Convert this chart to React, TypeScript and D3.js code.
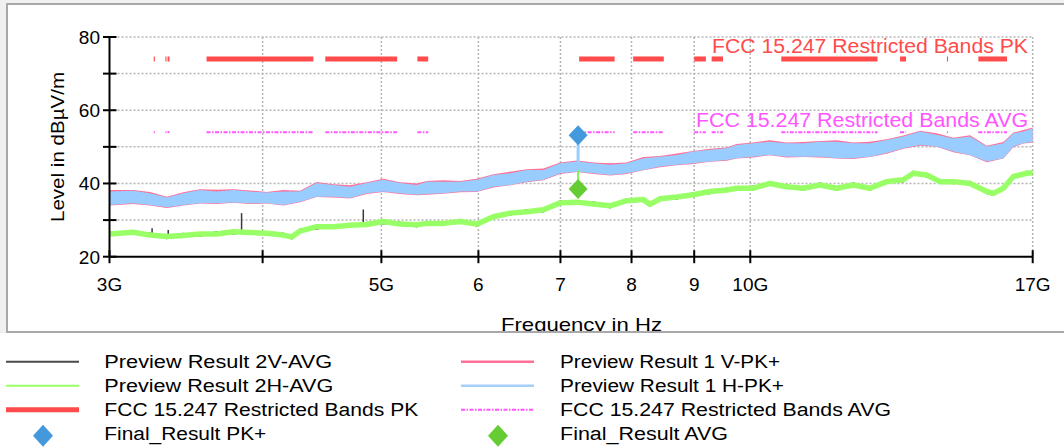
import React from 'react';
import * as d3 from 'd3';

// frequencies in GHz, levels in dBµV/m
const pkFreq = [3.0, 3.137, 3.237, 3.341, 3.446, 3.556, 3.670, 3.786, 3.907, 4.031, 4.159, 4.291, 4.428, 4.568, 4.714, 4.864, 5.018, 5.178, 5.343, 5.445, 5.617, 5.797, 5.981, 6.171, 6.368, 6.571, 6.779, 6.995, 7.218, 7.447, 7.684, 7.927, 8.178, 8.439, 8.708, 8.984, 9.271, 9.566, 9.747, 10.056, 10.377, 10.708, 11.047, 11.399, 11.763, 12.136, 12.523, 12.922, 13.331, 13.757, 14.195, 14.645, 15.112, 15.594, 16.088, 16.394, 16.705, 17.0];
const blueHi = [37.8, 38.0, 37.3, 36.2, 37.3, 38.2, 37.8, 38.2, 37.8, 37.5, 37.8, 37.8, 40.1, 39.6, 39.1, 40.1, 41.0, 40.1, 39.6, 40.5, 40.5, 40.5, 41.0, 42.3, 42.8, 43.7, 43.7, 45.5, 46.0, 45.5, 45.1, 45.5, 46.9, 47.3, 47.8, 48.7, 49.2, 49.6, 50.5, 51.0, 51.4, 51.0, 51.0, 51.4, 51.4, 51.0, 51.0, 51.9, 52.8, 54.2, 53.3, 52.3, 52.8, 50.1, 51.0, 53.7, 54.2, 55.1];
const blueLo = [34.1, 34.6, 34.1, 33.5, 34.1, 34.6, 34.6, 34.8, 34.6, 34.6, 34.1, 35.0, 36.4, 36.4, 36.0, 37.3, 37.8, 37.3, 36.9, 37.1, 37.3, 37.8, 37.8, 39.1, 39.6, 40.5, 41.0, 42.8, 43.2, 42.8, 42.3, 42.8, 43.7, 44.6, 45.1, 45.5, 46.0, 46.4, 46.9, 47.3, 47.8, 47.3, 47.3, 47.3, 46.9, 46.9, 47.3, 48.3, 49.6, 50.5, 50.1, 48.7, 47.8, 46.0, 46.9, 50.1, 51.0, 51.4];
const pinkHi = [38.2, 38.2, 37.7, 36.4, 37.6, 38.4, 38.3, 38.4, 38.1, 37.7, 38.2, 38.0, 40.4, 39.8, 39.5, 40.3, 41.3, 40.3, 40.0, 40.7, 40.9, 40.7, 41.3, 42.5, 43.2, 43.9, 44.1, 45.7, 46.3, 45.7, 45.5, 45.7, 47.2, 47.5, 48.2, 48.9, 49.5, 49.8, 50.8, 51.2, 51.8, 51.2, 51.3, 51.6, 51.8, 51.2, 51.4, 52.1, 53.1, 54.4, 53.7, 52.5, 53.2, 50.3, 51.3, 53.9, 54.6, 55.3];
const pinkLo = [34.0, 34.4, 34.0, 33.3, 34.0, 34.5, 34.4, 34.7, 34.4, 34.5, 34.0, 34.9, 36.3, 36.2, 35.9, 37.1, 37.7, 37.1, 36.8, 36.9, 37.2, 37.6, 37.7, 38.9, 39.5, 40.3, 40.9, 42.6, 43.1, 42.6, 42.2, 42.6, 43.6, 44.4, 45.0, 45.3, 45.9, 46.2, 46.8, 47.1, 47.7, 47.1, 47.2, 47.1, 46.8, 46.7, 47.2, 48.1, 49.5, 50.3, 50.0, 48.5, 47.7, 45.8, 46.8, 49.9, 50.9, 51.2];

const avgFreq = [3.0, 3.137, 3.237, 3.341, 3.446, 3.556, 3.670, 3.786, 3.907, 4.031, 4.159, 4.225, 4.291, 4.428, 4.568, 4.714, 4.864, 5.018, 5.178, 5.343, 5.445, 5.617, 5.797, 5.981, 6.171, 6.368, 6.571, 6.779, 6.995, 7.218, 7.447, 7.684, 7.927, 8.178, 8.282, 8.439, 8.708, 8.984, 9.271, 9.566, 9.747, 10.056, 10.377, 10.708, 11.047, 11.399, 11.763, 12.136, 12.523, 12.922, 13.331, 13.585, 13.930, 14.284, 14.645, 15.112, 15.594, 15.789, 16.088, 16.394, 16.812, 17.0];
const greenLevel = [26.2, 26.7, 25.9, 25.5, 25.8, 26.2, 26.2, 26.8, 26.6, 26.4, 25.9, 25.4, 27.0, 28.2, 28.2, 28.6, 28.8, 29.6, 28.9, 28.7, 29.1, 29.1, 29.6, 28.9, 30.9, 31.9, 32.3, 32.8, 34.7, 34.9, 34.4, 33.9, 35.3, 35.6, 34.3, 35.8, 36.3, 36.9, 37.8, 38.2, 38.7, 38.7, 40.0, 39.1, 38.7, 39.6, 38.7, 39.6, 38.7, 40.5, 41.0, 42.8, 42.3, 40.5, 40.5, 40.0, 37.8, 37.3, 38.7, 41.9, 42.8, 42.9];
const blackLevel = [26.6, 26.2, 26.4, 25.0, 26.3, 25.7, 26.8, 26.2, 27.1, 26.0, 26.4, 24.9, 27.5, 27.6, 28.7, 28.1, 29.3, 29.0, 29.4, 28.2, 29.6, 28.6, 30.1, 28.4, 31.4, 31.4, 32.8, 32.3, 35.2, 34.4, 34.9, 33.4, 35.8, 35.1, 33.8, 36.3, 35.8, 37.4, 37.3, 38.7, 38.2, 39.2, 39.5, 39.6, 38.2, 40.1, 38.2, 40.1, 38.2, 41.0, 40.5, 43.3, 41.8, 41.0, 40.0, 40.5, 37.3, 36.8, 39.2, 41.4, 43.3, 42.4];

const blackSpikeFreq = [3.25, 3.35, 3.845, 4.833];
const blackSpikeTop = [27.8, 27.3, 31.9, 32.9];
const blackSpikeBase = [26.0, 25.5, 26.7, 28.8];

const finalFreq = [7.236];
const finalPk = [53.2];
const finalAvg = [38.5];
const pkStemBase = [45.0];
const avgStemTop = [43.7];

const bandStart = [3.26, 3.332, 3.3458, 3.6, 4.5, 5.35, 7.25, 8.025, 9.0, 9.3, 10.6, 13.25, 14.47, 15.35];
const bandEnd = [3.267, 3.339, 3.358, 4.4, 5.15, 5.46, 7.75, 8.5, 9.2, 9.5, 12.7, 13.4, 14.5, 16.2];
const pkLimit = 74;
const avgLimit = 54;

const xTicks = [3, 4, 5, 6, 7, 8, 9, 10, 17];
const xTickLabels = ['3G', '', '5G', '6', '7', '8', '9', '10G', '17G'];
const yTicks = [20, 30, 40, 50, 60, 70, 80];
const yTickLabels = ['20', '', '40', '', '60', '', '80'];

const FONT = '"Liberation Sans", Arial, sans-serif';

const legendItems = [
  { label: 'Preview Result 2V-AVG', kind: 'line', color: '#4a4a4a', w: 2, len: 228 },
  { label: 'Preview Result 1 V-PK+', kind: 'line', color: '#ff6f96', w: 2.5, len: 220 },
  { label: 'Preview Result 2H-AVG', kind: 'line', color: '#99ff66', w: 2, len: 229 },
  { label: 'Preview Result 1 H-PK+', kind: 'line', color: '#a6cff7', w: 2.5, len: 224 },
  { label: 'FCC 15.247 Restricted Bands PK', kind: 'line', color: '#ff4b4b', w: 5, len: 314 },
  { label: 'FCC 15.247 Restricted Bands AVG', kind: 'dash', color: '#ff55ff', w: 2, len: 331 },
  { label: 'Final_Result PK+', kind: 'diamond', color: '#4499dd', w: 0, len: 162 },
  { label: 'Final_Result AVG', kind: 'diamond', color: '#66cc33', w: 0, len: 168 },
];

export default function App() {
  const x = d3.scaleLog().domain([3, 17]).range([109.5, 1032.7]);
  const y = d3.scaleLinear().domain([20, 80]).range([256.7, 37]);
  const x0 = x(3), x1 = x(17), yTop = y(80), yBot = y(20);

  const band = (hi: number[], lo: number[]) =>
    d3.area<number>()
      .x((_, i) => x(pkFreq[i]))
      .y0((_, i) => y(lo[i]))
      .y1((_, i) => y(hi[i]))(pkFreq.map((_, i) => i)) || '';

  const avgLine = (vals: number[]) =>
    d3.line<number>()
      .x((_, i) => x(avgFreq[i]))
      .y((_, i) => y(vals[i]))(avgFreq.map((_, i) => i)) || '';

  const diamond = (cx: number, cy: number, hw: number, hh: number) =>
    `M${cx},${cy - hh}L${cx + hw},${cy}L${cx},${cy + hh}L${cx - hw},${cy}Z`;

  return (
    <svg width={1064} height={447} style={{ position: 'absolute', left: 0, top: 0, fontFamily: FONT }}>
      <defs>
        <clipPath id="frameClip">
          <rect x={8} y={5} width={1056} height={326} />
        </clipPath>
      </defs>
      <rect x={0} y={0} width={1064} height={447} fill="#ffffff" />
      <rect x={0} y={0} width={1064} height={333} fill="#f0f0f0" />
      <rect x={7} y={4} width={1062} height={328} fill="#ffffff" stroke="#a8a8a8" strokeWidth={2} />

      {/* grid */}
      <g stroke="#b4b4b4" strokeWidth={1.5} strokeDasharray="2,2">
        {yTicks.filter(t => t > 20).map(t => (
          <line key={'gy' + t} x1={x0} x2={x1} y1={y(t)} y2={y(t)} />
        ))}
        {xTicks.filter(t => t > 3).map(t => (
          <line key={'gx' + t} x1={x(t)} x2={x(t)} y1={yTop} y2={yBot} />
        ))}
      </g>

      {/* limit lines */}
      {bandStart.map((s, i) => (
        <line key={'pk' + i} x1={x(s)} x2={x(bandEnd[i])} y1={y(pkLimit)} y2={y(pkLimit)}
          stroke="#ff4b4b" strokeWidth={5} />
      ))}
      {bandStart.map((s, i) => (
        <line key={'av' + i} x1={x(s)} x2={x(bandEnd[i])} y1={y(avgLimit)} y2={y(avgLimit)}
          stroke="#ff55ff" strokeWidth={2} strokeDasharray="4,1.5,1.5,1.5" />
      ))}

      {/* peak traces */}
      <path d={band(pinkHi, pinkLo)} fill="#ff6f96" />
      <path d={band(blueHi, blueLo)} fill="#99ccff" />
      {finalFreq.map((f, i) => (
        <line key={'ps' + i} x1={x(f)} x2={x(f)} y1={y(finalPk[i])} y2={y(pkStemBase[i])} stroke="#99ccff" strokeWidth={3} />
      ))}

      {/* average traces */}
      <path d={avgLine(blackLevel)} fill="none" stroke="#3a3a3a" strokeWidth={1.6} />
      {blackSpikeFreq.map((f, i) => (
        <line key={'bs' + i} x1={x(f)} x2={x(f)} y1={y(blackSpikeTop[i])} y2={y(blackSpikeBase[i])} stroke="#3a3a3a" strokeWidth={1.5} />
      ))}
      <path d={avgLine(greenLevel)} fill="none" stroke="#99ff66" strokeWidth={5.5} strokeLinejoin="round" />
      {finalFreq.map((f, i) => (
        <line key={'as' + i} x1={x(f)} x2={x(f)} y1={y(finalAvg[i])} y2={y(avgStemTop[i])} stroke="#88ee55" strokeWidth={2} />
      ))}

      {/* final results */}
      {finalFreq.map((f, i) => (
        <g key={'fr' + i}>
          <path d={diamond(x(f), y(finalPk[i]), 9.5, 10)} fill="#4499dd" />
          <path d={diamond(x(f), y(finalAvg[i]), 9.5, 10)} fill="#66cc33" />
        </g>
      ))}

      {/* limit labels */}
      <text x={1028} y={53} fontSize={20} fill="#ff4b4b" textAnchor="end" textLength={316} lengthAdjust="spacingAndGlyphs">
        FCC 15.247 Restricted Bands PK
      </text>
      <text x={1028} y={127} fontSize={20} fill="#ff55ff" textAnchor="end" textLength={332} lengthAdjust="spacingAndGlyphs">
        FCC 15.247 Restricted Bands AVG
      </text>

      {/* axes */}
      <g stroke="#000" strokeWidth={2}>
        <line x1={x0} x2={x0} y1={yTop} y2={yBot} />
        <line x1={x0} x2={x1} y1={yBot} y2={yBot} />
        {yTicks.map(t => (
          <line key={'ty' + t} x1={x0 - 6.5} x2={x0 + 7} y1={y(t)} y2={y(t)} />
        ))}
        {xTicks.map(t => (
          <line key={'tx' + t} x1={x(t)} x2={x(t)} y1={yBot - 6.5} y2={yBot + 6.5} />
        ))}
      </g>
      <g fontSize={19} fill="#000">
        {yTicks.map((t, i) => yTickLabels[i] ? (
          <text key={'ly' + t} x={100} y={y(t) + 7} textAnchor="end">{yTickLabels[i]}</text>
        ) : null)}
        {xTicks.map((t, i) => xTickLabels[i] ? (
          <text key={'lx' + t} x={x(t)} y={290.5} textAnchor="middle">{xTickLabels[i]}</text>
        ) : null)}
      </g>
      <text transform="translate(64,147) rotate(-90)" fontSize={19} textAnchor="middle" textLength={150} lengthAdjust="spacingAndGlyphs">
        Level in dBµV/m
      </text>
      <g clipPath="url(#frameClip)">
        <text x={581.5} y={331} fontSize={19} textAnchor="middle" textLength={161} lengthAdjust="spacingAndGlyphs">
          Frequency in Hz
        </text>
      </g>

      {/* legend */}
      {legendItems.map((it, i) => {
        const col = i % 2;
        const row = Math.floor(i / 2);
        const lx0 = col === 0 ? 6 : 461;
        const lx1 = col === 0 ? 79 : 534;
        const tx = col === 0 ? 104.3 : 560;
        const cy = 361.7 + row * 24;
        return (
          <g key={'lg' + i}>
            {it.kind === 'line' && (
              <line x1={lx0} x2={lx1} y1={cy} y2={cy} stroke={it.color} strokeWidth={it.w} />
            )}
            {it.kind === 'dash' && (
              <line x1={lx0} x2={lx1} y1={cy} y2={cy} stroke={it.color} strokeWidth={it.w} strokeDasharray="4,1.5,1.5,1.5" />
            )}
            {it.kind === 'diamond' && (
              <path d={diamond((lx0 + lx1) / 2 + 0.5, cy + 2, 10, 11)} fill={it.color} />
            )}
            <text x={tx} y={cy + 6.6} fontSize={18} fill="#000" textLength={it.len} lengthAdjust="spacingAndGlyphs">
              {it.label}
            </text>
          </g>
        );
      })}
    </svg>
  );
}
